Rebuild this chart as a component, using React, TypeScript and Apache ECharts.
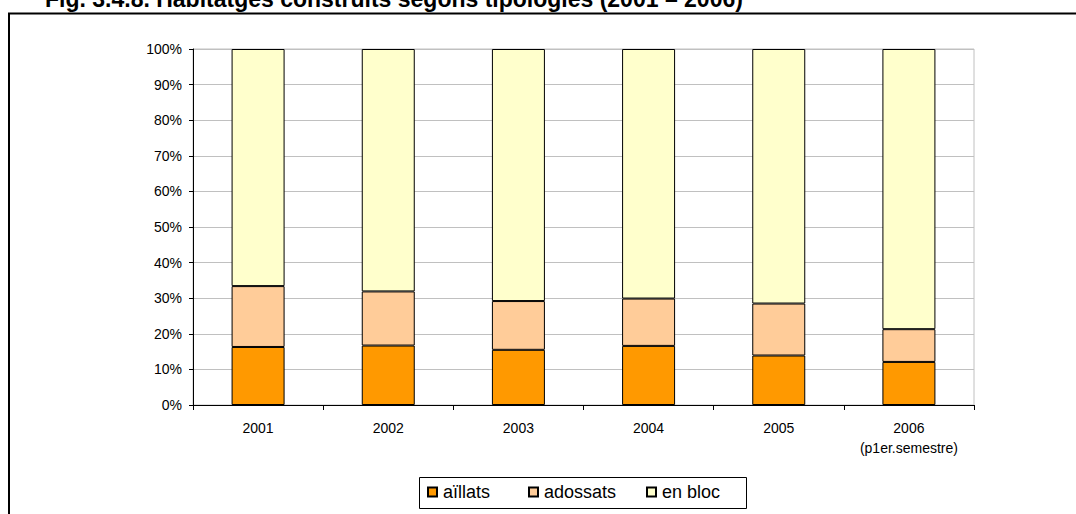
import React, { useEffect, useRef } from "react";
import * as echarts from "echarts";

const categories = ["2001", "2002", "2003", "2004", "2005", "2006\n(p1er.semestre)"];
const seriesNames = ["aïllats", "adossats", "en bloc"];
const aillats = [16.3, 16.7, 15.5, 16.6, 13.9, 12.1];
const adossats = [17.1, 15.2, 13.7, 13.3, 14.6, 9.2];
const enBloc = [66.6, 68.1, 70.8, 70.1, 71.5, 78.7];
const yTicks = [0, 10, 20, 30, 40, 50, 60, 70, 80, 90, 100];
const colors = ["#FF9900", "#FFCC99", "#FFFFCC"];
const titleText = "Fig. 3.4.8. Habitatges construïts segons tipologies (2001 – 2006)";

const FONT = "Arial, 'Liberation Sans', sans-serif";

export default function App() {
  const ref = useRef<HTMLDivElement>(null);
  useEffect(() => {
    if (!ref.current) return;
    const chart = echarts.init(ref.current, null, { renderer: "svg" });
    const data = [aillats, adossats, enBloc];
    const legendPos = [427, 528, 646];
    chart.setOption({
      animation: false,
      backgroundColor: "#ffffff",
      textStyle: { fontFamily: FONT },
      grid: {
        left: 193,
        right: 102,
        top: 49,
        bottom: 109,
        show: true,
        borderColor: "#c0c0c0",
        borderWidth: 1,
        containLabel: false,
      },
      xAxis: {
        type: "category",
        data: categories,
        axisLine: { lineStyle: { color: "#000", width: 1 } },
        axisTick: { show: true, length: 5, lineStyle: { color: "#000" } },
        axisLabel: { color: "#000", fontSize: 14, fontFamily: FONT, margin: 13, lineHeight: 20 },
      },
      yAxis: {
        type: "value",
        min: 0,
        max: 100,
        interval: 10,
        axisLine: { show: true, lineStyle: { color: "#000", width: 1 } },
        axisTick: { show: true, length: 4, lineStyle: { color: "#000" } },
        axisLabel: {
          color: "#000",
          fontSize: 14,
          fontFamily: FONT,
          margin: 11,
          formatter: (v: number) => (yTicks.includes(v) ? v + "%" : ""),
        },
        splitLine: { show: true, lineStyle: { color: "#c0c0c0", width: 1 } },
      },
      legend: seriesNames.map((n, i) => ({
        data: [n],
        left: legendPos[i],
        top: 483,
        padding: 0,
        itemWidth: 9,
        itemHeight: 9,
        icon: "rect",
        itemGap: 6,
        selectedMode: false,
        textStyle: { fontSize: 18, color: "#000", fontFamily: FONT, padding: [0, 0, 0, 1] },
      })),
      series: seriesNames.map((n, i) => ({
        name: n,
        type: "bar",
        stack: "total",
        barWidth: 53,
        data: data[i],
        itemStyle: { color: colors[i], borderColor: "#000", borderWidth: 1 },
      })),
      graphic: [
        {
          type: "rect",
          shape: { x: 9, y: 13.5, width: 2000, height: 2000 },
          style: { fill: "none", stroke: "#000", lineWidth: 2 },
          silent: true,
          z: 100,
        },
        {
          type: "rect",
          shape: { x: 419.5, y: 477.5, width: 327, height: 31 },
          style: { fill: "none", stroke: "#000", lineWidth: 1 },
          silent: true,
          z: 100,
        },
        {
          type: "text",
          x: 45,
          y: -13,
          style: {
            text: titleText,
            font: "bold 23px " + FONT,
            fill: "#000",
            align: "left",
            verticalAlign: "top",
          },
          silent: true,
          z: 100,
        },
      ],
    });
    return () => chart.dispose();
  }, []);
  return (
    <div
      ref={ref}
      style={{ position: "fixed", left: 0, top: 0, width: 1076, height: 514, background: "#fff" }}
    />
  );
}
